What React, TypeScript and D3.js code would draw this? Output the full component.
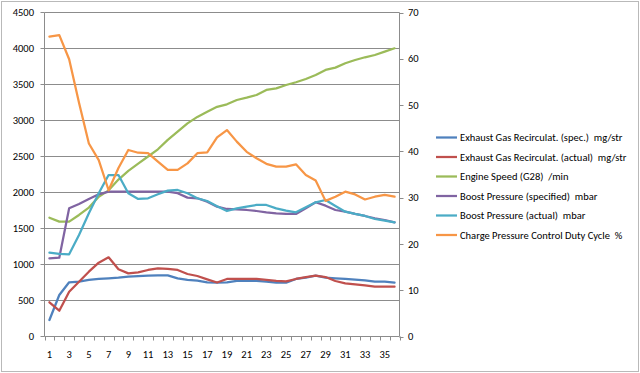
import React from "react";
import * as d3 from "d3";

const categories = ["1","2","3","4","5","6","7","8","9","10","11","12","13","14","15","16","17","18","19","20","21","22","23","24","25","26","27","28","29","30","31","32","33","34","35","36"];

const egrSpec = [229, 576, 753, 761, 785, 799, 808, 817, 831, 840, 845, 850, 850, 808, 785, 775, 753, 747, 753, 771, 775, 771, 761, 747, 747, 799, 817, 845, 817, 808, 799, 789, 780, 761, 761, 747];
const egrActual = [475, 358, 622, 761, 900, 1025, 1100, 933, 877, 891, 924, 947, 938, 924, 868, 840, 794, 750, 799, 799, 799, 799, 785, 771, 765, 799, 826, 845, 826, 771, 739, 725, 711, 692, 692, 692];
const engineSpeed = [1650, 1595, 1595, 1688, 1790, 1940, 2030, 2180, 2300, 2400, 2500, 2600, 2730, 2845, 2960, 3050, 3120, 3190, 3225, 3285, 3317, 3354, 3424, 3447, 3493, 3531, 3577, 3632, 3702, 3734, 3795, 3840, 3878, 3910, 3956, 4003];
const boostSpec = [1086, 1095, 1780, 1840, 1910, 1975, 2012, 2012, 2012, 2012, 2012, 2012, 2012, 1990, 1929, 1920, 1873, 1803, 1771, 1766, 1757, 1743, 1725, 1711, 1702, 1702, 1780, 1864, 1817, 1757, 1734, 1702, 1674, 1642, 1618, 1586];
const boostActual = [1164, 1146, 1141, 1410, 1711, 1989, 2243, 2243, 1989, 1910, 1920, 1975, 2026, 2035, 1989, 1920, 1882, 1808, 1743, 1780, 1803, 1827, 1827, 1780, 1748, 1725, 1794, 1864, 1896, 1813, 1734, 1702, 1674, 1632, 1608, 1586];
const dutyCycle = [64.8, 65.1, 59.9, 50.5, 41.7, 38.1, 31.6, 36.4, 40.3, 39.7, 39.6, 37.8, 36.0, 36.0, 37.4, 39.6, 39.8, 43.0, 44.6, 42.1, 39.9, 38.5, 37.3, 36.7, 36.7, 37.2, 34.9, 33.7, 29.3, 30.2, 31.3, 30.7, 29.6, 30.2, 30.6, 30.2];

const leftTicks = [0, 500, 1000, 1500, 2000, 2500, 3000, 3500, 4000, 4500];
const rightTicks = [0, 10, 20, 30, 40, 50, 60, 70];
const xLabels = ["1","3","5","7","9","11","13","15","17","19","21","23","25","27","29","31","33","35"];

const seriesNames = [
  "Exhaust Gas Recirculat. (spec.)  mg/str",
  "Exhaust Gas Recirculat. (actual)  mg/str",
  "Engine Speed (G28)  /min",
  "Boost Pressure (specified)  mbar",
  "Boost Pressure (actual)  mbar",
  "Charge Pressure Control Duty Cycle  %",
];
const seriesColors = ["#4F81BD", "#C0504D", "#9BBB59", "#8064A2", "#4BACC6", "#F79646"];
const seriesData = [egrSpec, egrActual, engineSpeed, boostSpec, boostActual, dutyCycle];
const seriesAxis = ["left", "left", "left", "left", "left", "right"];

const W = 640, H = 373;
const plotLeft = 44.5, plotRight = 399.5, plotTop = 12.5, plotBottom = 336.5;
const FONT = "Carlito, 'Liberation Sans Narrow', 'Liberation Sans', Arial, sans-serif";
const FS = 10.5;

export default function App() {
  const x = d3.scaleBand<string>().domain(categories).range([plotLeft, plotRight]).padding(0);
  const yL = d3.scaleLinear().domain([0, 4500]).range([plotBottom, plotTop]);
  const yR = d3.scaleLinear().domain([0, 70]).range([plotBottom, plotTop]);
  const cx = (c: string) => (x(c) as number) + x.bandwidth() / 2;

  const lines = seriesData.map((data, si) => {
    const ys = seriesAxis[si] === "left" ? yL : yR;
    const gen = d3.line<number>().x((_, i) => cx(categories[i])).y((d) => ys(d));
    return gen(data) as string;
  });

  const boundaries = categories.map((c) => x(c) as number).concat([plotRight]);

  return (
    <svg width={W} height={H} style={{ position: "absolute", left: 0, top: 0, background: "#fff" }} fontFamily={FONT}>
      <rect x={1.5} y={1.5} width={W - 3} height={H - 3} fill="#fff" stroke="#b9b9b9" strokeWidth={1} />
      {leftTicks.filter((t) => t > 0).map((t) => (
        <line key={"g" + t} x1={plotLeft} x2={plotRight} y1={yL(t)} y2={yL(t)} stroke="#8c8c8c" strokeWidth={1} />
      ))}
      {/* left axis */}
      <line x1={plotLeft} x2={plotLeft} y1={plotTop} y2={plotBottom} stroke="#8c8c8c" />
      {leftTicks.map((t) => (
        <g key={"l" + t}>
          <line x1={plotLeft - 4} x2={plotLeft} y1={yL(t)} y2={yL(t)} stroke="#8c8c8c" />
          <text x={34} y={yL(t)} dy="0.35em" textAnchor="end" fontSize={FS} fill="#000">{t}</text>
        </g>
      ))}
      {/* right axis */}
      <line x1={plotRight} x2={plotRight} y1={plotTop} y2={plotBottom} stroke="#8c8c8c" />
      {rightTicks.map((t) => (
        <g key={"r" + t}>
          <line x1={plotRight} x2={plotRight + 4} y1={Math.round(yR(t)) + 0.5} y2={Math.round(yR(t)) + 0.5} stroke="#8c8c8c" />
          <text x={408} y={yR(t)} dy="0.35em" textAnchor="start" fontSize={FS} fill="#000">{t}</text>
        </g>
      ))}
      {/* x axis */}
      <line x1={plotLeft} x2={plotRight} y1={plotBottom} y2={plotBottom} stroke="#8c8c8c" />
      {boundaries.map((b, i) => (
        <line key={"t" + i} x1={Math.round(b) + 0.5} x2={Math.round(b) + 0.5} y1={plotBottom} y2={plotBottom + 4} stroke="#8c8c8c" />
      ))}
      {xLabels.map((c) => (
        <text key={"x" + c} x={cx(c)} y={358} textAnchor="middle" fontSize={FS} fill="#000">{c}</text>
      ))}
      {lines.map((d, i) => (
        <path key={"s" + i} d={d} fill="none" stroke={seriesColors[i]} strokeWidth={2.25} strokeLinejoin="round" strokeLinecap="round" />
      ))}
      {seriesNames.map((n, i) => {
        const ly = 137.5 + i * 19.5;
        return (
          <g key={"lg" + i}>
            <line x1={436} x2={457} y1={ly} y2={ly} stroke={seriesColors[i]} strokeWidth={2.25} />
            <text x={460} y={ly} dy="0.35em" fontSize={FS} fill="#000" style={{ whiteSpace: "pre" }}>{n}</text>
          </g>
        );
      })}
    </svg>
  );
}
